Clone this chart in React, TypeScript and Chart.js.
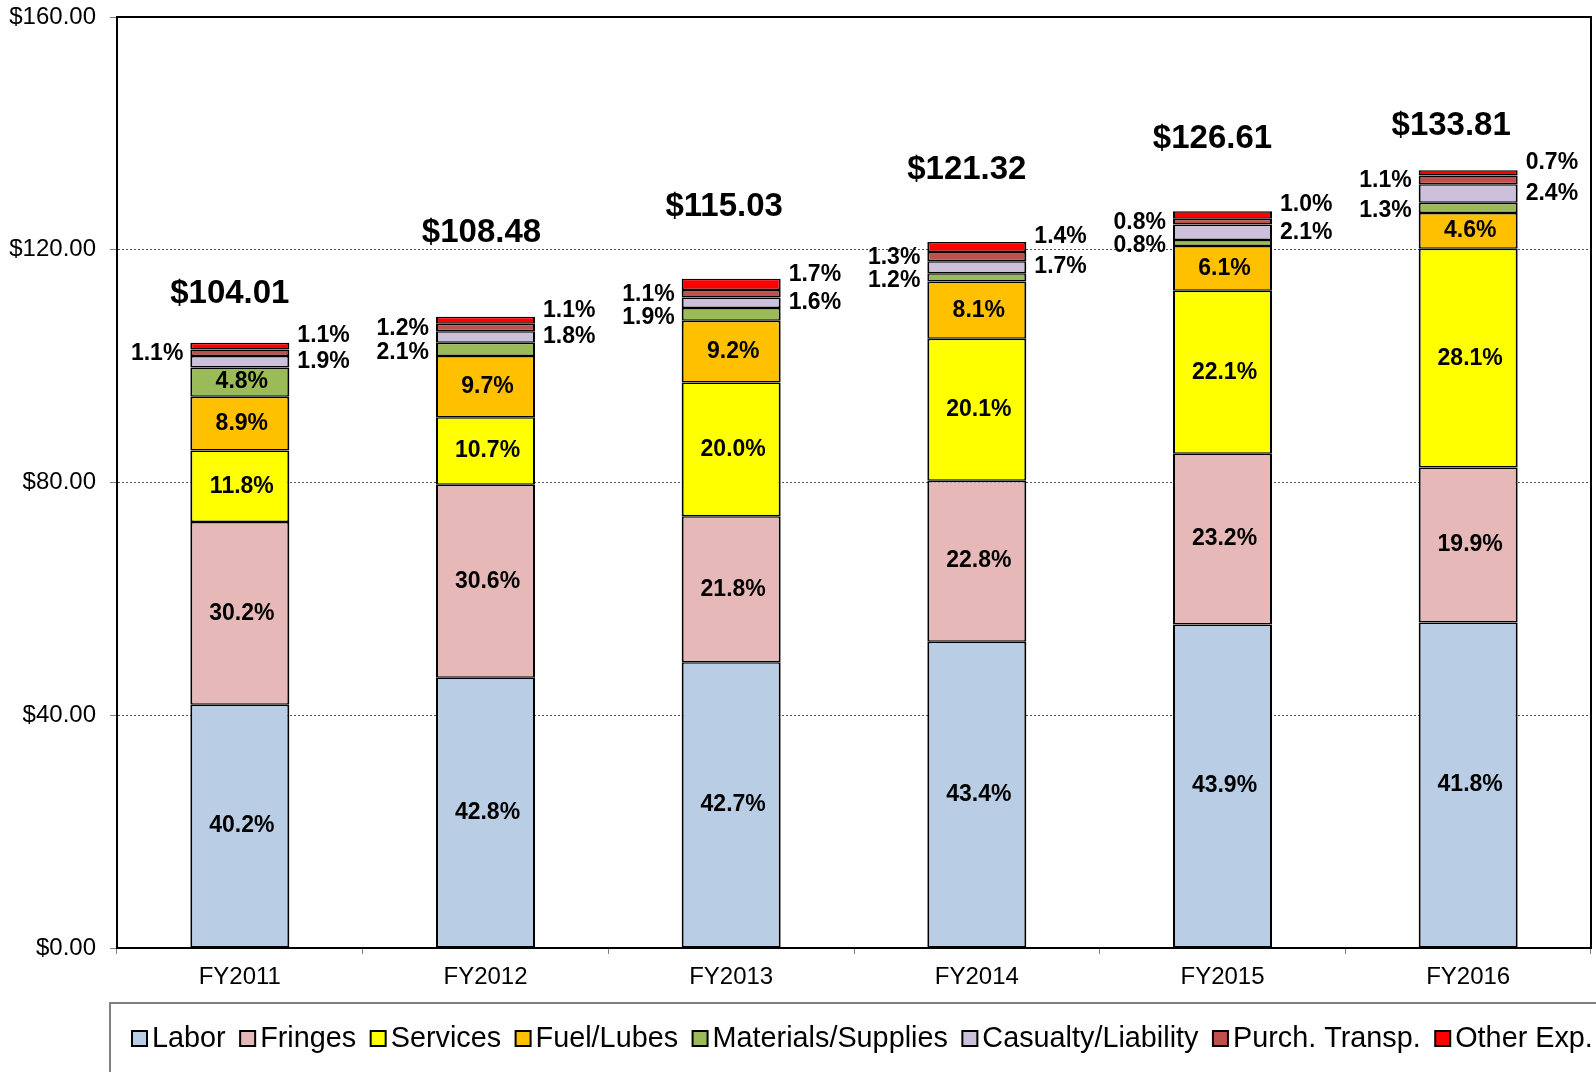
import React, { useEffect, useRef } from 'react';
import { Chart, registerables } from 'chart.js';

Chart.register(...registerables);

// ---- Data ----
const years = ['FY2011', 'FY2012', 'FY2013', 'FY2014', 'FY2015', 'FY2016'];
const totals = [104.01, 108.48, 115.03, 121.32, 126.61, 133.81];
const laborPct = [40.2, 42.8, 42.7, 43.4, 43.9, 41.8];
const fringesPct = [30.2, 30.6, 21.8, 22.8, 23.2, 19.9];
const servicesPct = [11.8, 10.7, 20.0, 20.1, 22.1, 28.1];
const fuelPct = [8.9, 9.7, 9.2, 8.1, 6.1, 4.6];
const materialsPct = [4.8, 2.1, 1.9, 1.2, 0.8, 1.3];
const casualtyPct = [1.9, 1.8, 1.6, 1.7, 2.1, 2.4];
const purchPct = [1.1, 1.2, 1.1, 1.3, 0.8, 1.1];
const otherPct = [1.1, 1.1, 1.7, 1.4, 1.0, 0.7];
const seriesNames = ['Labor', 'Fringes', 'Services', 'Fuel/Lubes', 'Materials/Supplies', 'Casualty/Liability', 'Purch. Transp.', 'Other Exp.'];
const yMin = 0;
const yMax = 160;
const yStep = 40;

// ---- Styles ----
const seriesPcts = [laborPct, fringesPct, servicesPct, fuelPct, materialsPct, casualtyPct, purchPct, otherPct];
const seriesColors = ['#B9CDE5', '#E6B9B8', '#FFFF00', '#FFC000', '#9BBB59', '#CCC0DA', '#C0504D', '#FF0000'];
// label placement for small segments: side and vertical nudge (px)
const sidePlacement = [null, null, null, null, { side: 'left', dy: 3 }, { side: 'right', dy: 0 }, { side: 'left', dy: 1 }, { side: 'right', dy: -10 }];
const insideThreshold = 3;
const totalDy = [49, 84, 72, 72, 72, 44];
const totalDx = [-10, -4, -7, -10, -10, -17];
const FONT = '"Liberation Sans", Arial, Helvetica, sans-serif';

const labelPlugin = {
  id: 'segLabels',
  afterDatasetsDraw(chart: any) {
    const ctx = chart.ctx;
    ctx.save();
    ctx.fillStyle = '#000';
    ctx.textBaseline = 'middle';
    chart.data.datasets.forEach((ds: any, d: number) => {
      const meta = chart.getDatasetMeta(d);
      meta.data.forEach((bar: any, i: number) => {
        const pct = seriesPcts[d][i];
        const text = pct.toFixed(1) + '%';
        const half = bar.width / 2;
        const cy = (bar.y + bar.base) / 2;
        ctx.font = 'bold 23px ' + FONT;
        const place = sidePlacement[d];
        if (!place || pct >= insideThreshold) {
          ctx.textAlign = 'center';
          ctx.fillText(text, bar.x + 2, cy);
        } else if (place.side === 'left') {
          ctx.textAlign = 'right';
          ctx.fillText(text, bar.x - half - 7, cy + place.dy);
        } else {
          ctx.textAlign = 'left';
          ctx.fillText(text, bar.x + half + 8, cy + place.dy);
        }
      });
    });
    // totals
    const last = chart.getDatasetMeta(chart.data.datasets.length - 1);
    ctx.font = 'bold 33px ' + FONT;
    ctx.textAlign = 'center';
    last.data.forEach((bar: any, i: number) => {
      ctx.fillText('$' + totals[i].toFixed(2), bar.x + totalDx[i], bar.y - totalDy[i]);
    });
    ctx.restore();
  },
};

const framePlugin = {
  id: 'frame',
  afterDraw(chart: any) {
    const { ctx, chartArea } = chart;
    ctx.save();
    ctx.strokeStyle = '#000';
    ctx.lineWidth = 2;
    ctx.beginPath();
    ctx.moveTo(chartArea.left, chartArea.top);
    ctx.lineTo(chartArea.right, chartArea.top);
    ctx.lineTo(chartArea.right, chartArea.bottom);
    ctx.stroke();

    // legend
    ctx.strokeStyle = '#808080';
    ctx.lineWidth = 2;
    ctx.strokeRect(chartArea.left - 7, 1003, 1600, 200);
    ctx.font = '28.8px ' + FONT;
    ctx.textBaseline = 'middle';
    ctx.textAlign = 'left';
    let x = chartArea.left + 15;
    const cy = 1038;
    chart.data.datasets.forEach((ds: any) => {
      ctx.fillStyle = ds.backgroundColor;
      ctx.fillRect(x, cy - 7, 15, 15);
      ctx.strokeStyle = '#000';
      ctx.lineWidth = 2;
      ctx.strokeRect(x, cy - 7, 15, 15);
      x += 15 + 5;
      ctx.fillStyle = '#000';
      ctx.fillText(ds.label, x, cy + 1);
      x += ctx.measureText(ds.label).width + 14.5;
    });
    ctx.restore();
  },
};

export default function App() {
  const ref = useRef<HTMLCanvasElement>(null);
  useEffect(() => {
    if (!ref.current) return;
    const datasets = seriesNames.map((name, d) => ({
      label: name,
      data: totals.map((t, i) => (t * seriesPcts[d][i]) / 100),
      backgroundColor: seriesColors[d],
      borderColor: '#000',
      borderWidth: { top: 1.5, bottom: 1.5, left: 2, right: 2 },
      borderSkipped: false,
      barPercentage: 0.403,
      categoryPercentage: 1,
    }));
    const chart = new Chart(ref.current, {
      type: 'bar',
      data: { labels: years, datasets },
      options: {
        responsive: false,
        animation: false,
        devicePixelRatio: 1,
        layout: { padding: { left: 0, right: 5, top: 17, bottom: 74 } },
        plugins: { legend: { display: false }, tooltip: { enabled: false } },
        scales: {
          x: {
            stacked: true,
            afterFit: (s: any) => { s.height = 50; s.paddingLeft = 0; s.paddingRight = 0; },
            grid: { offset: true, drawOnChartArea: false, drawTicks: true, tickLength: 6, color: '#808080' },
            border: { color: '#000', width: 2 },
            ticks: { color: '#000', font: { family: FONT, size: 24 }, padding: 9 },
          },
          y: {
            stacked: true,
            min: yMin,
            max: yMax,
            afterFit: (s: any) => { s.width = 117; s.paddingTop = 0; s.paddingBottom = 0; },
            ticks: {
              stepSize: yStep,
              color: '#000',
              font: { family: FONT, size: 24 },
              padding: 14,
              callback: (v: any) => '$' + Number(v).toFixed(2),
            },
            grid: {
              color: (c: any) => (c.tick && (c.tick.value === yMin || c.tick.value === yMax) ? 'rgba(0,0,0,0)' : '#555'),
              tickColor: '#808080',
              tickLength: 7,
              lineWidth: 1,
            },
            border: { color: '#000', width: 2, dash: [2, 2] },
          },
        },
      },
      plugins: [labelPlugin, framePlugin],
    });
    return () => chart.destroy();
  }, []);
  return (
    <div style={{ position: 'fixed', left: 0, top: 0, width: 1596, height: 1072, background: '#fff' }}>
      <canvas ref={ref} width={1596} height={1072} />
    </div>
  );
}
